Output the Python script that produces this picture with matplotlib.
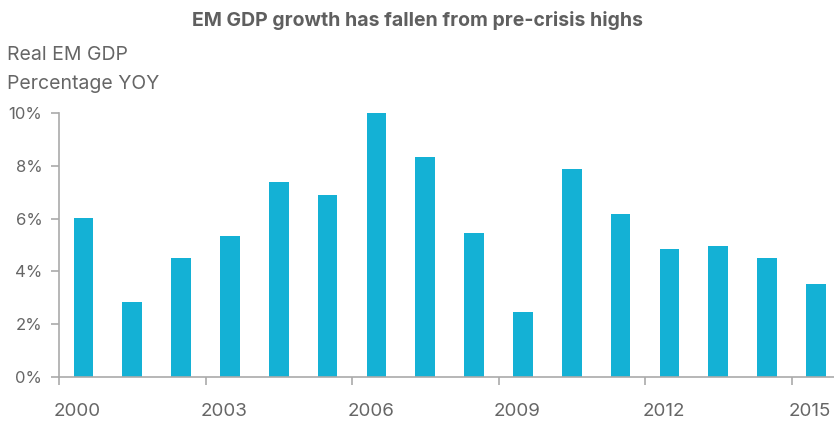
import matplotlib
matplotlib.use("Agg")
import matplotlib.pyplot as plt

years = list(range(2000, 2016))
gdp_growth = [6.02, 2.83, 4.5, 5.34, 7.39, 6.89, 10.0, 8.33,
              5.45, 2.46, 7.87, 6.17, 4.85, 4.97, 4.5, 3.53]
year_labels = ["2000", "2003", "2006", "2009", "2012", "2015"]
y_ticks = [0, 2, 4, 6, 8, 10]

plt.rcParams["font.family"] = ["Inter", "DejaVu Sans"]
grey = "#666666"
axis_grey = "#aaaaaa"
bar_color = "#14b1d5"

fig = plt.figure(figsize=(8.34, 4.25), dpi=100)
ax = fig.add_axes([59 / 834, 48 / 425, 1 - 59 / 834, 264 / 425])

x = list(range(len(years)))
ax.bar(x, gdp_growth, width=0.4, color=bar_color)

ax.set_yticks(y_ticks)
ax.set_yticklabels([f"{v}%" for v in y_ticks])

# tick marks on every third category boundary, labels a bit to the right
starts = list(range(0, len(years), 3))
ax.set_xticks([i - 0.5 for i in starts], minor=True)
ax.set_xticks([i - 0.12 for i in starts])
ax.set_xticklabels(year_labels)

ax.set_ylim(0, 10)
ax.set_xlim(-0.5, 15.37)

for side in ["top", "right"]:
    ax.spines[side].set_visible(False)
for side in ["left", "bottom"]:
    ax.spines[side].set_color(axis_grey)
    ax.spines[side].set_linewidth(1.2)

ax.tick_params(axis="y", colors=axis_grey, labelcolor=grey, length=6,
               width=1.2, pad=6, labelsize=12)
ax.tick_params(axis="x", which="minor", colors=axis_grey, length=6, width=1.2)
ax.tick_params(axis="x", which="major", labelcolor=grey, length=0,
               pad=19, labelsize=13.5)

fig.text(0.5, 1 - 26 / 425, "EM GDP growth has fallen from pre-crisis highs",
         ha="center", va="baseline", fontsize=14, fontweight="bold", color="#5f5f5f")
fig.text(7 / 834, 1 - 60 / 425, "Real EM GDP", ha="left", va="baseline",
         fontsize=14, color=grey)
fig.text(7 / 834, 1 - 89 / 425, "Percentage YOY", ha="left", va="baseline",
         fontsize=14, color=grey)

fig.savefig("out.png", dpi=100)
